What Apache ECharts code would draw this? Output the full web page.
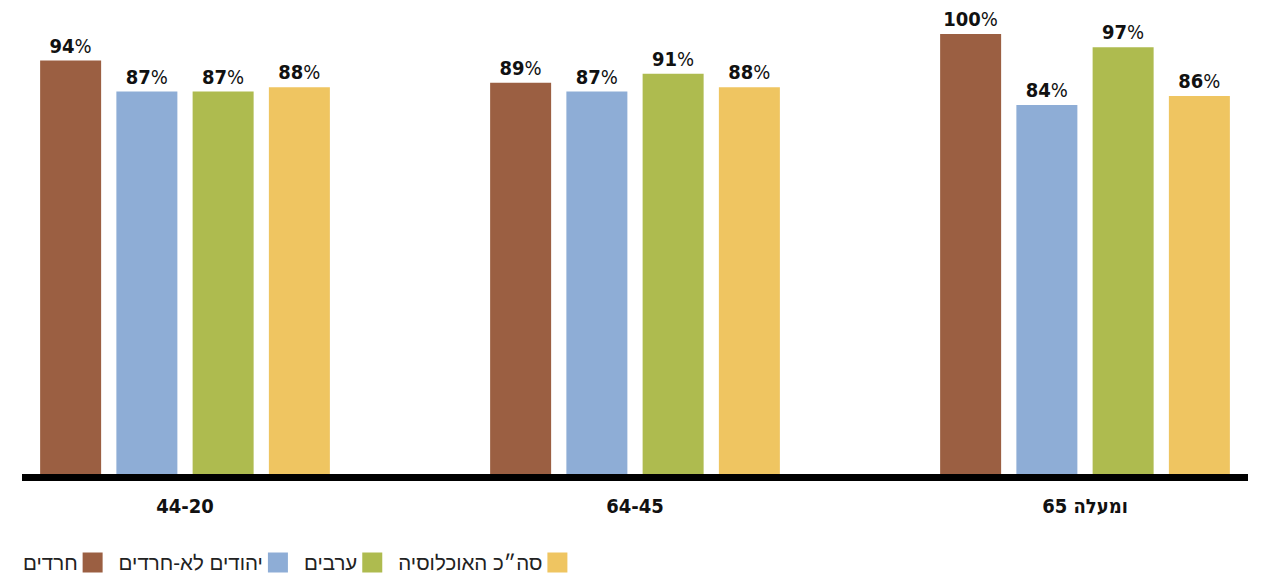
<!DOCTYPE html>
<html>
<head>
<meta charset="utf-8">
<script src="https://cdn.jsdelivr.net/npm/echarts@6/dist/echarts.min.js"></script>
<style>
    html, body {margin: 0; padding: 0; background: #fff; overflow: hidden;}
    #wrap {position: relative; width: 1262px; height: 581px; overflow: hidden;}
    #chart {position: absolute; left: -40px; top: 0; width: 1350px; height: 581px;}
</style>
</head>
<body>
<div id="wrap"><div id="chart"></div></div>
<script>
const categories = ['44-20', '64-45', '65 ומעלה']

const series_names = ['חרדים', 'יהודים לא-חרדים', 'ערבים', 'סה״כ האוכלוסיה']

const haredim = [94, 89, 100]
const jews_non_haredim = [87, 87, 84]
const arabs = [87, 91, 97]
const total_population = [88, 88, 86]

const colors = ['#9B5F42', '#8EADD6', '#AEBB4F', '#EFC561']

const FONT = "'DejaVu Sans Condensed', 'Liberation Sans Narrow', 'Liberation Sans', sans-serif"
const LEGEND_FONT = "'Liberation Sans', Arial, sans-serif"

const chart = echarts.init(document.getElementById('chart'), null, {renderer: 'svg'})

const make_series = (name, data, color) => ({
    name: name,
    type: 'bar',
    data: data,
    barWidth: 61,
    barGap: '25%',
    itemStyle: {color: color},
    animation: false,
    label: {
        show: true,
        position: 'top',
        distance: 5,
        formatter: p => `{n|${p.value}}{p|%}`,
        rich: {
            n: {fontFamily: FONT, fontSize: 20, fontWeight: 'bold', color: '#111'},
            p: {fontFamily: FONT, fontSize: 20, fontWeight: 'normal', color: '#111'},
        },
    },
})

chart.setOption({
    color: colors,
    legend: {
        left: 58,
        bottom: 3,
        align: 'right',
        itemWidth: 20,
        itemHeight: 20,
        itemGap: 16,
        icon: 'rect',
        textStyle: {fontFamily: LEGEND_FONT, fontSize: 20.5, color: '#222'},
        data: series_names,
    },
    grid: [
        {left: 0, right: 0, top: 34, bottom: 104, containLabel: false},
        {left: 62, right: 62, top: 34, bottom: 104, containLabel: false},
    ],
    xAxis: [
        {
            type: 'category',
            data: categories,
            gridIndex: 0,
            axisLine: {show: false},
            axisTick: {show: false},
            axisLabel: {
                margin: 19,
                fontFamily: FONT,
                fontSize: 20,
                fontWeight: 'bold',
                color: '#111',
            },
        },
        {
            type: 'category',
            data: [''],
            gridIndex: 1,
            z: 10,
            axisLine: {show: true, lineStyle: {color: '#000', width: 7, cap: 'butt'}},
            axisTick: {show: false},
            axisLabel: {show: false},
        },
    ],
    yAxis: [
        {type: 'value', gridIndex: 0, min: 0, max: 100, show: false},
        {type: 'value', gridIndex: 1, min: 0, max: 1, show: false},
    ],
    series: [
        make_series(series_names[0], haredim, colors[0]),
        make_series(series_names[1], jews_non_haredim, colors[1]),
        make_series(series_names[2], arabs, colors[2]),
        make_series(series_names[3], total_population, colors[3]),
    ],
})
</script>
</body>
</html>
